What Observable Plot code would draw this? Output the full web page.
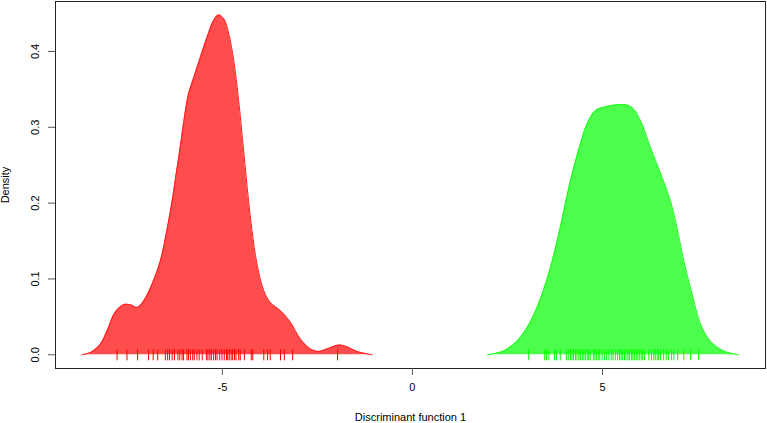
<!DOCTYPE html>
<html>
<head>
<meta charset="utf-8">
<script src="https://cdn.jsdelivr.net/npm/d3@7"></script>
<script src="https://cdn.jsdelivr.net/npm/@observablehq/plot@0.6"></script>
<style>
  html, body { margin: 0; padding: 0; background: #fff; }
  svg { display: block; }
</style>
</head>
<body>
<div id="chart"></div>
<script>
// Group 1 (red) density curve: x, density
const redX = [-8.70, -8.47, -8.21, -8.03, -7.82, -7.60, -7.42, -7.24, -7.07, -6.85, -6.63, -6.46, -6.32, -6.24, -6.14, -5.97, -5.89, -5.75, -5.58, -5.40, -5.23, -5.10, -4.96, -4.83, -4.70, -4.57, -4.44, -4.31, -4.22, -4.09, -3.91, -3.74, -3.47, -3.21, -2.95, -2.68, -2.46, -2.25, -1.94, -1.72, -1.46, -1.06];
const redY = [0.000, 0.003, 0.014, 0.032, 0.056, 0.066, 0.066, 0.0625, 0.071, 0.093, 0.124, 0.164, 0.203, 0.230, 0.263, 0.322, 0.344, 0.366, 0.392, 0.419, 0.441, 0.448, 0.443, 0.423, 0.388, 0.335, 0.269, 0.203, 0.164, 0.120, 0.0845, 0.069, 0.058, 0.043, 0.021, 0.0075, 0.0044, 0.0075, 0.0128, 0.0106, 0.0044, 0.000];

// Group 2 (green) density curve: x, density
const greenX = [1.97, 2.40, 2.75, 3.02, 3.28, 3.50, 3.68, 3.89, 4.16, 4.42, 4.60, 4.82, 5.08, 5.56, 5.78, 6.00, 6.26, 6.57, 6.79, 6.96, 7.14, 7.36, 7.58, 7.84, 8.19, 8.59];
const greenY = [0.000, 0.005, 0.018, 0.036, 0.0625, 0.093, 0.124, 0.168, 0.230, 0.278, 0.305, 0.322, 0.327, 0.330, 0.326, 0.309, 0.274, 0.234, 0.203, 0.168, 0.124, 0.080, 0.0405, 0.018, 0.005, 0.000];

// Rug (individual discriminant scores)
const redRug = [-7.77, -7.51, -7.23, -6.94, -6.82, -6.70, -6.50, -6.44, -6.39, -6.32, -6.26, -6.17, -6.12, -6.06, -6.02, -5.93, -5.89, -5.84, -5.78, -5.74, -5.67, -5.61, -5.53, -5.42, -5.38, -5.33, -5.29, -5.23, -5.18, -5.14, -5.07, -5.01, -4.95, -4.89, -4.86, -4.82, -4.77, -4.73, -4.68, -4.64, -4.57, -4.53, -4.42, -4.24, -4.20, -3.91, -3.81, -3.74, -3.47, -3.37, -3.15, -1.97];
const greenRug = [3.06, 3.48, 3.53, 3.59, 3.74, 3.79, 3.89, 4.05, 4.10, 4.16, 4.20, 4.24, 4.29, 4.33, 4.38, 4.42, 4.47, 4.51, 4.55, 4.60, 4.64, 4.68, 4.76, 4.80, 4.84, 4.89, 4.93, 4.99, 5.05, 5.11, 5.17, 5.23, 5.28, 5.34, 5.40, 5.45, 5.49, 5.53, 5.58, 5.62, 5.67, 5.71, 5.76, 5.80, 5.84, 5.89, 5.93, 5.97, 6.02, 6.06, 6.11, 6.22, 6.29, 6.35, 6.39, 6.44, 6.48, 6.53, 6.61, 6.68, 6.74, 6.82, 6.88, 6.98, 7.14, 7.32, 7.53];

// Ticks and labels
const xTicks = [-5, 0, 5];
const yTicks = [0, 0.1, 0.2, 0.3, 0.4];
const xLabel = "Discriminant function 1";
const yLabel = "Density";

const red = redX.map((x, i) => ({x, y: redY[i]}));
const green = greenX.map((x, i) => ({x, y: greenY[i]}));
const fmt = d3.format(".1f");

const chart = Plot.plot({
  width: 767,
  height: 423,
  marginLeft: 55,
  marginRight: 2,
  marginTop: 1,
  marginBottom: 55,
  style: {fontFamily: "'Liberation Sans', Arial, sans-serif", fontSize: "11px", background: "#fff", color: "#000"},
  x: {domain: [-9.39, 9.29]},
  y: {domain: [-0.0181, 0.4659]},
  marks: [
    Plot.areaY(red, {x: "x", y: "y", fill: "rgba(255,0,0,0.7)", curve: "catmull-rom"}),
    Plot.lineY(red, {x: "x", y: "y", stroke: "#ff1a1a", strokeWidth: 1, curve: "catmull-rom"}),
    Plot.areaY(green, {x: "x", y: "y", fill: "rgba(0,255,0,0.7)", curve: "catmull-rom"}),
    Plot.lineY(green, {x: "x", y: "y", stroke: "#1aff1a", strokeWidth: 1, curve: "catmull-rom"}),
    Plot.ruleX(redRug, {x: d => d, y1: -0.008, y2: 0.0066, stroke: "#ff0000", strokeWidth: 1}),
    Plot.ruleX(greenRug, {x: d => d, y1: -0.008, y2: 0.0066, stroke: "#00ff00", strokeWidth: 1}),
    Plot.frame({stroke: "#222"}),
    Plot.axisX({ticks: xTicks, tickSize: 7, tickPadding: 8, tickFormat: d => String(d), label: null, stroke: "#555"}),
    Plot.axisY({ticks: yTicks, tickSize: 7, tickFormat: () => "", label: null, stroke: "#555"}),
    Plot.text(yTicks, {y: d => d, text: d => fmt(d), frameAnchor: "left", dx: -20, rotate: -90, textAnchor: "middle", lineAnchor: "middle", fill: "#000"}),
    Plot.text([yLabel], {text: d => d, frameAnchor: "left", dx: -50, rotate: -90, textAnchor: "middle", lineAnchor: "middle", fill: "#000"}),
    Plot.text([xLabel], {text: d => d, frameAnchor: "bottom", dy: 49, textAnchor: "middle", lineAnchor: "middle", fill: "#000"})
  ]
});
document.getElementById("chart").appendChild(chart);
</script>
</body>
</html>
